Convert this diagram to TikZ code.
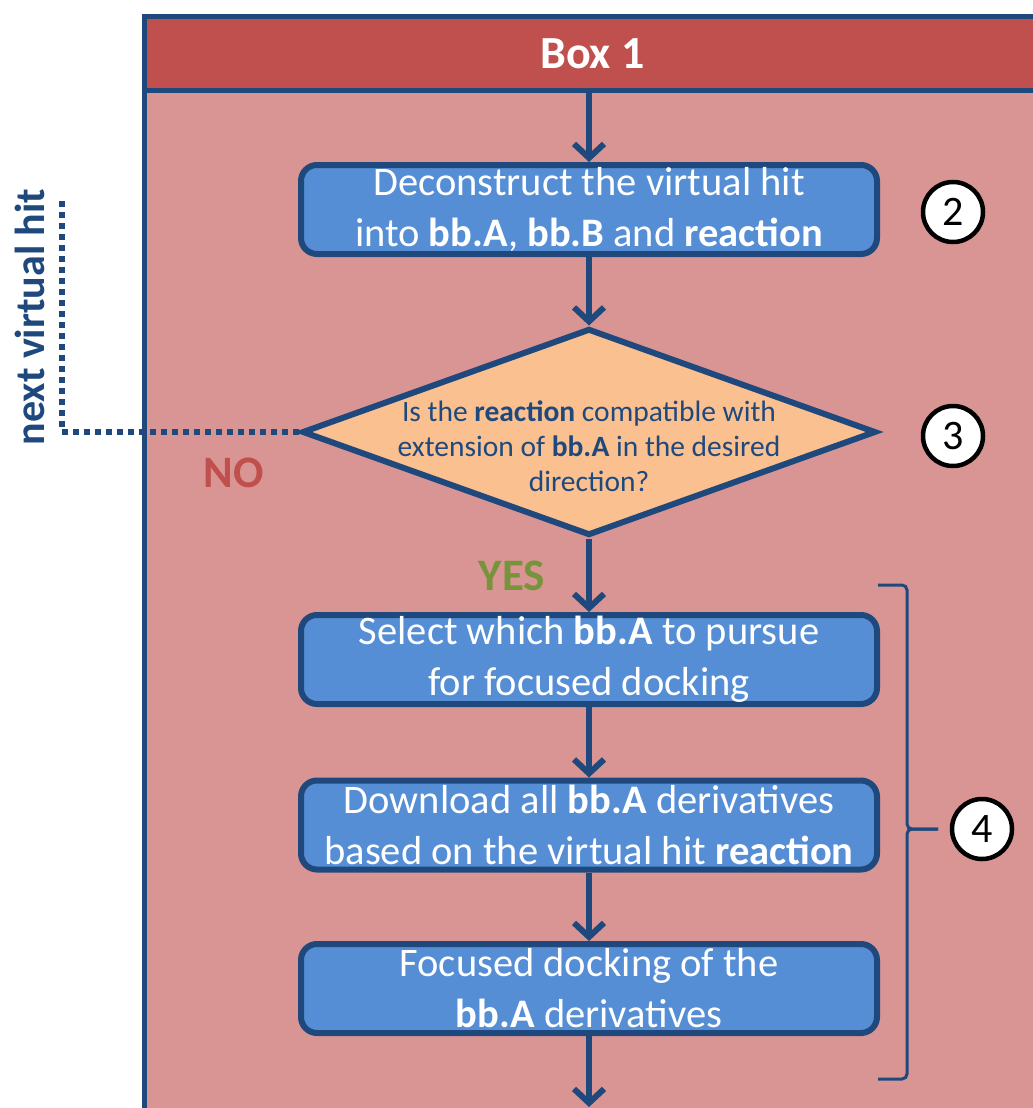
\documentclass[tikz,border=0pt]{standalone}
\usepackage{fontspec}
\setmainfont{Carlito}
\usetikzlibrary{shapes.geometric,arrows.meta}
\definecolor{bord}{HTML}{1F497D}
\definecolor{hdrred}{HTML}{C0504D}
\definecolor{bodypink}{HTML}{D99594}
\definecolor{boxblue}{HTML}{558ED5}
\definecolor{diafill}{HTML}{FAC090}
\definecolor{yesgreen}{HTML}{77933C}
\begin{document}
\begin{tikzpicture}[x=1pt,y=-1pt,
  stepbox/.style={draw=bord, line width=6pt, fill=boxblue, rounded corners=16pt,
    minimum width=576pt, minimum height=89pt, align=center,
    text=white, font=\fontsize{40.5}{51}\selectfont, inner sep=0pt},
  arr/.style={draw=bord, line width=6pt, -{Straight Barb[length=14pt,width=30pt]}},
  dotline/.style={draw=bord, line width=6pt, dash pattern=on 6pt off 5pt},
  circ/.style={circle, draw=black, line width=4.5pt, fill=white, minimum size=60pt,
    inner sep=0pt, font=\fontsize{42}{42}\selectfont},
  brk/.style={draw=bord, line width=3pt, rounded corners=5pt},
  lbl/.style={font=\bfseries\fontsize{45}{45}\selectfont}]
\useasboundingbox (0,0) rectangle (1033,1108);
\clip (0,0) rectangle (1033,1108);
\fill[white] (0,0) rectangle (1033,1108);
% frame and header
\node[draw=bord, line width=5pt, fill=bodypink, minimum width=897pt, minimum height=1100pt,
  anchor=north west, inner sep=0pt] (frame) at (141.5,14) {};
\node[draw=bord, line width=5pt, fill=hdrred, minimum width=897pt, minimum height=74pt,
  anchor=north west, inner sep=0pt, text=white, font=\bfseries\fontsize{46}{50}\selectfont]
  (hdr) at (141.5,14) {Box 1};
% steps
\node[stepbox] (b1) at (589,209.5) {Deconstruct the virtual hit\\into \textbf{bb.A}, \textbf{bb.B} and \textbf{reaction}};
\node[diamond, draw=bord, line width=6pt, fill=diafill, minimum width=574pt,
  minimum height=207pt, inner sep=0pt] (dia) at (589,432) {};
\node[text=bord, align=center, font=\fontsize{29.5}{35}\selectfont, inner sep=0pt] (diatxt) at (589,446)
  {Is the \textbf{reaction} compatible with\\extension of \textbf{bb.A} in the desired\\direction?};
\node[stepbox] (b3) at (589,659.5) {Select which \textbf{bb.A} to pursue\\for focused docking};
\node[stepbox] (b4) at (589,825) {Download all \textbf{bb.A} derivatives\\based on the virtual hit \textbf{reaction}};
\node[stepbox] (b5) at (589,988.5) {Focused docking of the\\\textbf{bb.A} derivatives};
\coordinate (bottomend) at (589,1107);
% arrows
\draw[arr] (hdr.south -| b1.north) -- (b1.north);
\draw[arr] (b1.south) -- (dia.north);
\draw[arr] (dia.south) -- (b3.north);
\draw[arr] (b3.south) -- (b4.north);
\draw[arr] (b4.south) -- (b5.north);
\draw[arr] (b5.south) -- (bottomend);
% labels
\node[lbl, text=hdrred] (no) at (234,473) {NO};
\node[lbl, text=yesgreen] (yes) at (512,576) {YES};
\node[lbl, text=bord, rotate=90, font=\bfseries\fontsize{42}{42}\selectfont] (nvh) at (30,317) {next virtual hit};
% dotted loop
\coordinate (turn) at (62,432);
\coordinate (dotend) at (62,197);
\draw[dotline] (dia.west) -- (turn) -- (dotend);
% circles
\node[circ] (c2) at (953,212) {2};
\node[circ] (c3) at (953,436) {3};
\node[circ] (c4) at (982,829) {4};
% bracket
\coordinate (bka) at (878,585);
\coordinate (bkb) at (907,585);
\coordinate (bkm) at (907,829);
\coordinate (bkt) at (938,829);
\coordinate (bkc) at (907,1079);
\coordinate (bkd) at (878,1079);
\draw[brk] (bka) -- (bkb) -- (bkm) -- (bkt);
\draw[brk] (bkt) -- (bkm) -- (bkc) -- (bkd);
\end{tikzpicture}
\end{document}
